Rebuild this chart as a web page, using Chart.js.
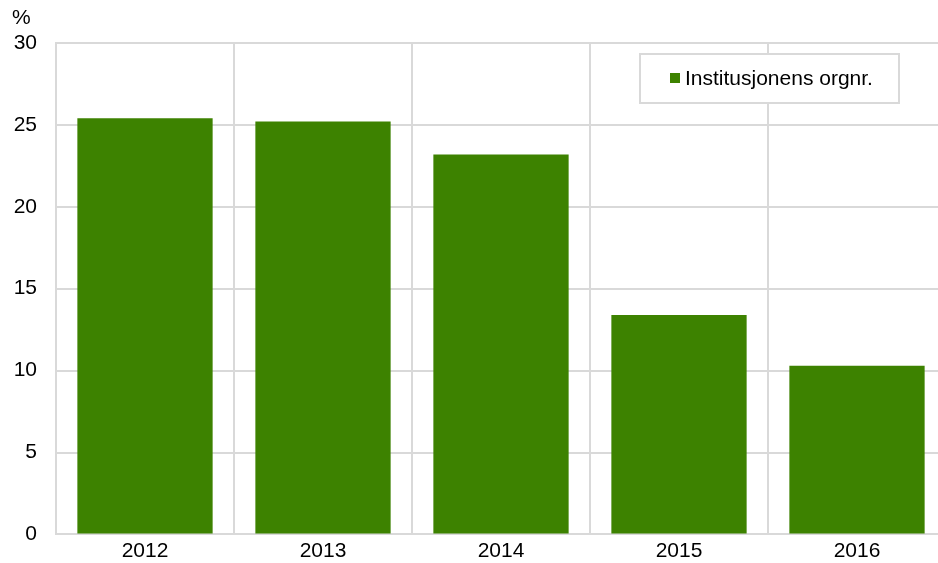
<!DOCTYPE html>
<html>
<head>
<meta charset="utf-8">
<script src="https://cdn.jsdelivr.net/npm/chart.js@4"></script>
<style>
  body { margin: 0; overflow: hidden; background: #fff; }
  #wrap { width: 946px; height: 566px; }
</style>
</head>
<body>
<div id="wrap"><canvas id="mychart"></canvas></div>
<script>
const years = ['2012', '2013', '2014', '2015', '2016']
const orgnrShare = [25.4, 25.2, 23.2, 13.4, 10.3]
const seriesLabel = 'Institusjonens orgnr.'
const unitLabel = '%'

const green = '#3d8200'
const gridGrey = '#d9d9d9'
const fontFamily = '"Liberation Sans", Arial, sans-serif'
const fontSize = 21

// legend box + unit label drawn by hand, sits on top of the plot
const extras = {
    id: 'extras',
    afterDraw(chart) {
        const ctx = chart.ctx
        ctx.save()
        ctx.font = fontSize + 'px ' + fontFamily
        ctx.fillStyle = '#000'
        ctx.textBaseline = 'middle'
        ctx.textAlign = 'left'
        ctx.fillText(unitLabel, 12, 18)

        const bx = 640, by = 54, bw = 259, bh = 49
        ctx.fillStyle = '#fff'
        ctx.fillRect(bx, by, bw, bh)
        ctx.strokeStyle = gridGrey
        ctx.lineWidth = 2
        ctx.strokeRect(bx, by, bw, bh)
        ctx.fillStyle = green
        ctx.fillRect(670, 73, 10, 10)
        ctx.fillStyle = '#000'
        ctx.fillText(chart.data.datasets[0].label, 685, 79)
        ctx.restore()
    }
}

new Chart(document.getElementById('mychart'), {
    type: 'bar',
    data: {
        labels: years,
        datasets: [{
            label: seriesLabel,
            data: orgnrShare,
            backgroundColor: green,
            borderWidth: 0,
            categoryPercentage: 1,
            barPercentage: 0.76
        }]
    },
    options: {
        responsive: true,
        maintainAspectRatio: false,
        animation: false,
        layout: { padding: { top: 43, left: 0, right: 0, bottom: 0 } },
        plugins: {
            legend: { display: false },
            tooltip: { enabled: false }
        },
        scales: {
            x: {
                grid: { color: gridGrey, lineWidth: 2, offset: true, drawTicks: false },
                border: { color: gridGrey, width: 2 },
                ticks: { color: '#000', font: { size: fontSize, family: fontFamily }, padding: 4 },
                afterFit(scale) { scale.height = 26 }
            },
            y: {
                min: 0,
                max: 30,
                grid: { color: gridGrey, lineWidth: 2, drawTicks: false },
                border: { color: gridGrey, width: 2 },
                ticks: { stepSize: 5, color: '#000', font: { size: fontSize, family: fontFamily }, padding: 19 },
                afterFit(scale) { scale.width = 56 }
            }
        }
    },
    plugins: [extras]
})
</script>
</body>
</html>
